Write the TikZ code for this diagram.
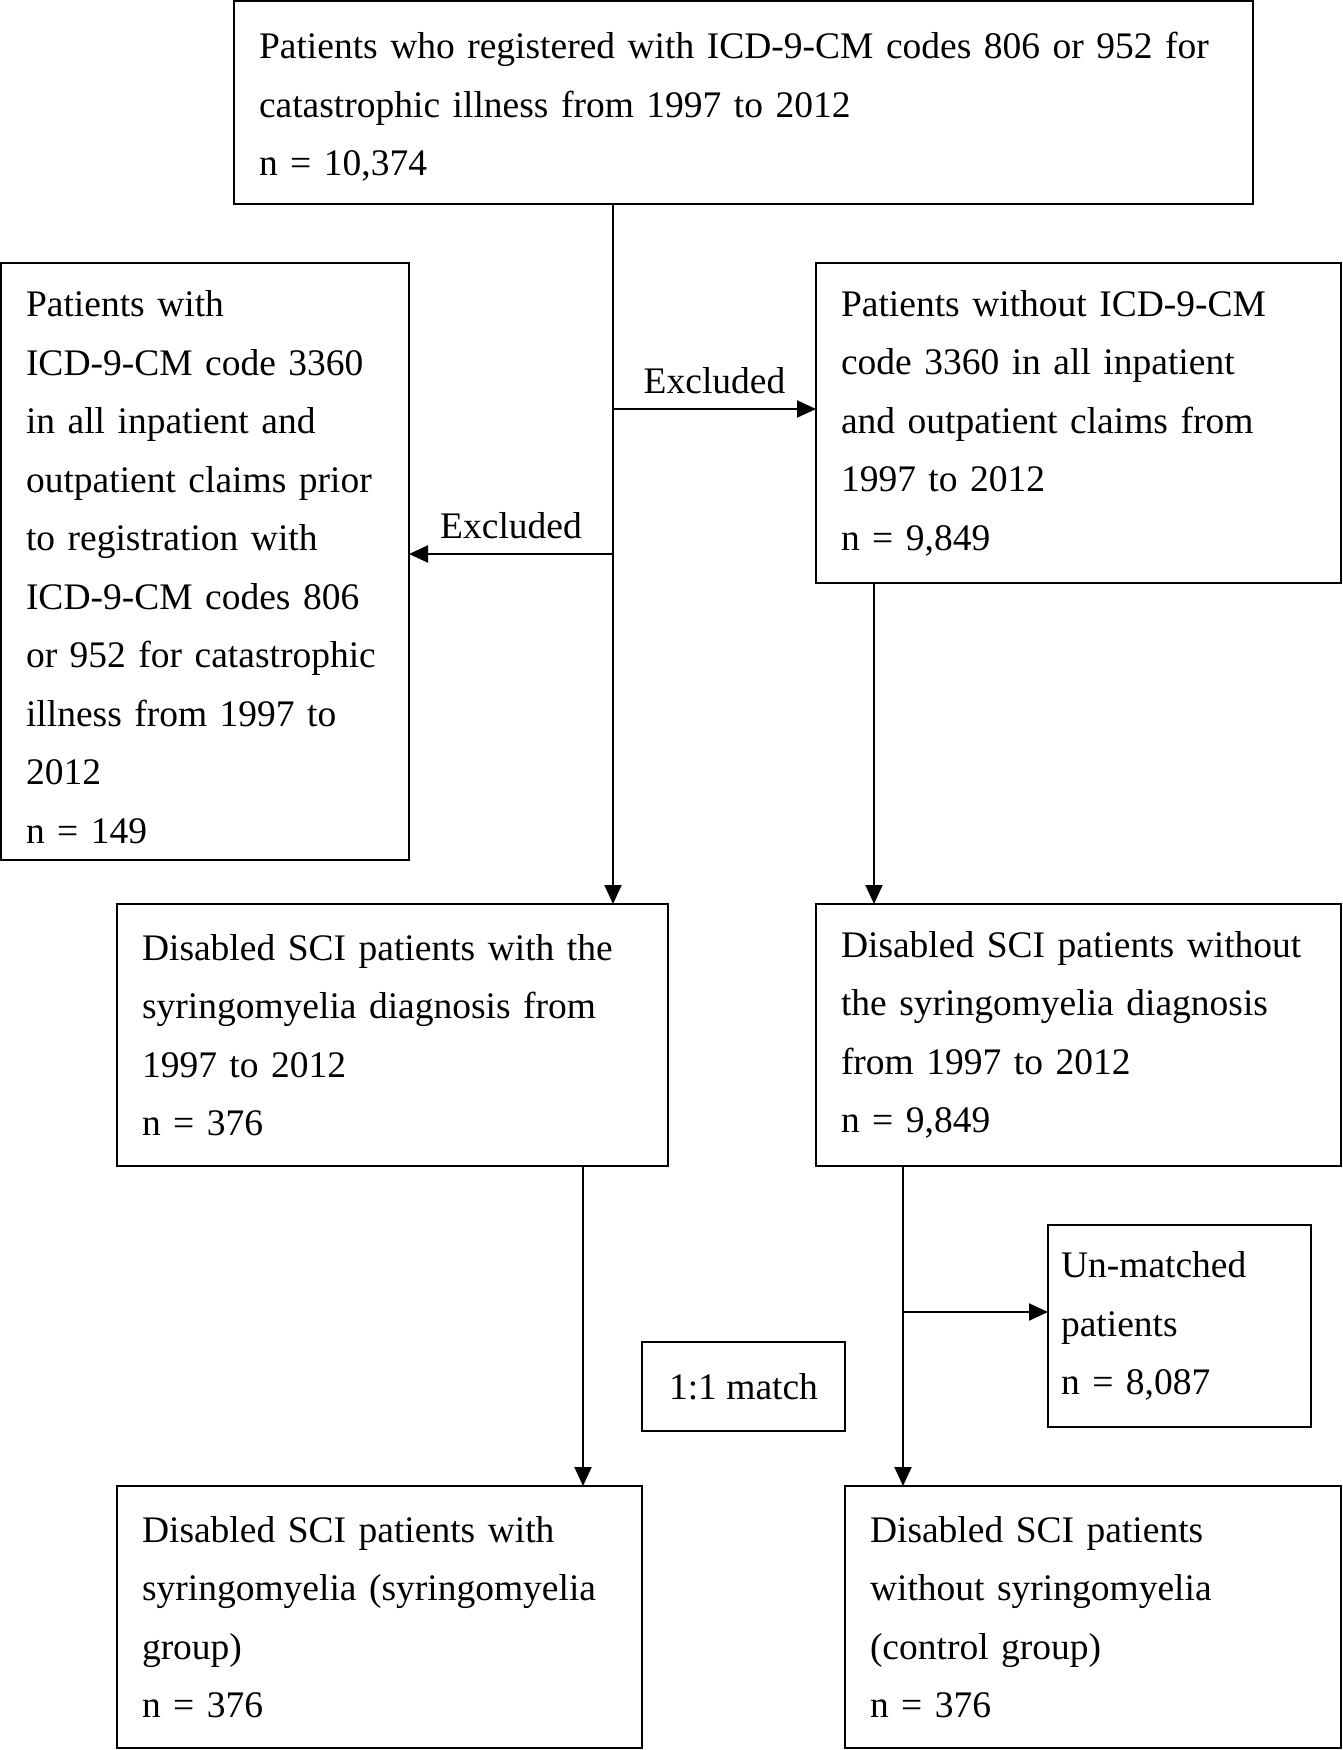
\documentclass[tikz,border=0pt]{standalone}
\usepackage{fontspec}
\setmainfont{Liberation Serif}
\usetikzlibrary{arrows.meta}

\begin{document}
\begin{tikzpicture}[
  x=1pt,y=-1pt,
  font=\fontsize{37.5}{58.5}\selectfont,
  flowbox/.style 2 args={draw,line width=2pt,anchor=north west,outer sep=0pt,
    align=left,inner xsep=25pt,inner ysep=0pt,text width=#1,minimum height=#2},
  link/.style={line width=2pt},
  arr/.style={link,-{Triangle[length=19pt,width=17pt]}},
  excl/.style={inner sep=0pt,above=14pt},
]
\useasboundingbox (0,0) rectangle (1342,1750);

% ---- boxes ----
\node[flowbox={969pt}{203pt}] (reg) at (234,1)
  {\rule{0pt}{35pt}Patients who registered with ICD-9-CM codes 806 or 952 for\\
   catastrophic illness from 1997 to 2012\\
   n = 10,374};
\node[flowbox={358pt}{597pt}] (prior) at (1,263)
  {\rule{0pt}{37pt}Patients with\\
   ICD-9-CM code 3360\\
   in all inpatient and\\
   outpatient claims prior\\
   to registration with\\
   ICD-9-CM codes 806\\
   or 952 for catastrophic\\
   illness from 1997 to\\
   2012\\
   n = 149};
\node[flowbox={475pt}{320pt}] (nocode) at (816,263)
  {Patients without ICD-9-CM\\
   code 3360 in all inpatient\\
   and outpatient claims from\\
   1997 to 2012\\
   n = 9,849};
\node[flowbox={501pt}{262pt}] (syrdx) at (117,904)
  {Disabled SCI patients with the\\
   syringomyelia diagnosis from\\
   1997 to 2012\\
   n = 376};
\node[flowbox={475pt}{262pt}] (nosyrdx) at (816,904)
  {Disabled SCI patients without\\
   the syringomyelia diagnosis\\
   from 1997 to 2012\\
   n = 9,849};
\node[flowbox={237pt}{202pt},inner xsep=13pt] (unmatched) at (1048,1225)
  {Un-matched\\
   patients\\
   n = 8,087};
\node[draw,line width=2pt,anchor=north west,outer sep=0pt,
      minimum width=203pt,minimum height=89pt] (match) at (642,1342) {1:1 match};
\node[flowbox={475pt}{262pt}] (syrgrp) at (117,1486)
  {Disabled SCI patients with\\
   syringomyelia (syringomyelia\\
   group)\\
   n = 376};
\node[flowbox={446pt}{262pt}] (ctrlgrp) at (845,1486)
  {Disabled SCI patients\\
   without syringomyelia\\
   (control group)\\
   n = 376};

% ---- branch points ----
\coordinate (exclA) at (613,409);
\coordinate (exclB) at (613,554);
\coordinate (colR) at (874,700);
\coordinate (colL) at (583,1300);
\coordinate (splitM) at (903,1312);

% ---- connectors ----
\draw[arr] (reg.south -| exclA) -- (syrdx.north -| exclA);
\draw[arr] (exclA) -- (exclA -| nocode.west) node[excl,midway] {Excluded};
\draw[arr] (exclB) -- (exclB -| prior.east) node[excl,midway] {Excluded};
\draw[arr] (nocode.south -| colR) -- (nosyrdx.north -| colR);
\draw[arr] (syrdx.south -| colL) -- (syrgrp.north -| colL);
\draw[arr] (nosyrdx.south -| splitM) -- (ctrlgrp.north -| splitM);
\draw[arr] (splitM) -- (splitM -| unmatched.west);

\end{tikzpicture}
\end{document}
